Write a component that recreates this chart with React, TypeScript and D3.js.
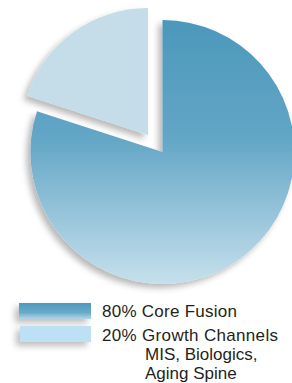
import React from "react";
import * as d3 from "d3";

const categories = ["Core Fusion", "Growth Channels"];
const values = [80, 20];
const legendLabels = ["80% Core Fusion", "20% Growth Channels"];
const legendSubLabels = ["MIS, Biologics,", "Aging Spine"];

export default function App() {
  const W = 292;
  const H = 383;
  const cx = 162.5;
  const cy = 152;
  const r = 132;
  const smallR = 127;
  const explode: [number, number] = [-14.5, -17];

  const pie = d3.pie<number>().sort(null).startAngle(0).endAngle(2 * Math.PI);
  const arcs = pie(values);
  const bigArc = d3.arc<d3.PieArcDatum<number>>().innerRadius(0).outerRadius(r);
  const smallArc = d3.arc<d3.PieArcDatum<number>>().innerRadius(0).outerRadius(smallR);

  return (
    <svg
      width={W}
      height={H}
      style={{ position: "absolute", left: 0, top: 0, display: "block" }}
    >
      <defs>
        <linearGradient id="bigGrad" gradientUnits="userSpaceOnUse" x1="0" y1={-r} x2="0" y2={r}>
          <stop offset="0" stopColor="#4b98bb" />
          <stop offset="0.45" stopColor="#63a6c6" />
          <stop offset="1" stopColor="#c6e0ec" />
        </linearGradient>
        <linearGradient id="sw1Grad" x1="0" y1="0" x2="0" y2="1">
          <stop offset="0" stopColor="#4d99bc" />
          <stop offset="0.6" stopColor="#6aaac9" />
          <stop offset="1" stopColor="#b5d6e6" />
        </linearGradient>
        <filter id="shadow" x="-20%" y="-20%" width="140%" height="140%">
          <feDropShadow dx="-4" dy="4" stdDeviation="3" floodColor="#000" floodOpacity="0.28" />
        </filter>
        <filter id="swShadow" x="-30%" y="-50%" width="160%" height="250%">
          <feDropShadow dx="-4" dy="4" stdDeviation="3" floodColor="#000" floodOpacity="0.25" />
        </filter>
      </defs>
      <rect x={0} y={0} width={W} height={H} fill="#ffffff" />
      <g filter="url(#shadow)">
        <path d={bigArc(arcs[0]) || ""} transform={`translate(${cx},${cy})`} fill="url(#bigGrad)" />
        <path
          d={smallArc(arcs[1]) || ""}
          transform={`translate(${cx + explode[0]},${cy + explode[1]})`}
          fill="#c4dde9"
        />
      </g>
      <g fontFamily="'Liberation Sans', Arial, Helvetica, sans-serif" fontSize="17" fill="#231f20">
        <rect x={19} y={303} width={72} height={16} fill="url(#sw1Grad)" filter="url(#swShadow)" />
        <rect x={20} y={326} width={71} height={16} fill="#bde0f4" filter="url(#swShadow)" />
        <text x={102} y={317} textLength={135} lengthAdjust="spacing">{legendLabels[0]}</text>
        <text x={102} y={341} textLength={176} lengthAdjust="spacing">{legendLabels[1]}</text>
        <text x={145} y={360}>{legendSubLabels[0]}</text>
        <text x={145} y={379}>{legendSubLabels[1]}</text>
      </g>
      <title>{categories.join(", ")}</title>
    </svg>
  );
}
